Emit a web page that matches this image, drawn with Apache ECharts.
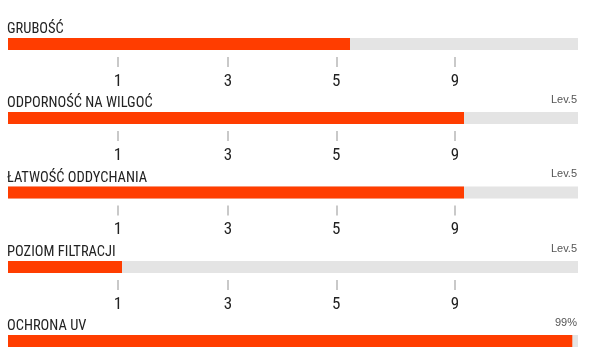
<!DOCTYPE html>
<html>
<head>
<meta charset="utf-8">
<style>
html,body{margin:0;padding:0;background:#fff;}
#chart{width:598px;height:362px;}
</style>
<script src="https://cdn.jsdelivr.net/npm/echarts@6/dist/echarts.min.js"></script>
</head>
<body>
<div id="chart"></div>
<script>
// ---- data ----
const categories = ['GRUBOŚĆ', 'ODPORNOŚĆ NA WILGOĆ', 'ŁATWOŚĆ ODDYCHANIA', 'POZIOM FILTRACJI', 'OCHRONA UV'];
const values = [60, 80, 80, 20, 99];
const valueLabels = ['', 'Lev.5', 'Lev.5', 'Lev.5', '99%'];
const tickPositions = [19.3, 38.6, 57.6, 78.4];
const tickLabels = ['1', '3', '5', '9'];
const showTicks = [true, true, true, true, false];

// ---- layout ----
const barTops = [38, 112, 186.5, 261, 335];
const barH = 12;
const leftPx = 8, rightPx = 20;
const condensed = "'Liberation Sans Narrow', 'Roboto Condensed', 'DejaVu Sans Condensed', sans-serif";
const orange = '#ff3d00';

const chart = echarts.init(document.getElementById('chart'), null, {renderer: 'canvas'});

const grids = [], xAxes = [], yAxes = [], series = [], titles = [];
categories.forEach((cat, i) => {
  grids.push({left: leftPx, right: rightPx, top: barTops[i], height: barH, containLabel: false});
  xAxes.push({
    type: 'value', gridIndex: i, min: 0, max: 100, position: 'bottom', offset: 7,
    axisLine: {show: false}, splitLine: {show: false},
    axisTick: {show: showTicks[i], customValues: tickPositions, length: 10, lineStyle: {color: '#b8b8b8', width: 1.5}},
    axisLabel: {
      show: showTicks[i], customValues: tickPositions, margin: 16,
      fontFamily: condensed, fontSize: 17, color: '#222',
      formatter: v => {
        let best = 0;
        tickPositions.forEach((p, k) => { if (Math.abs(p - v) < Math.abs(tickPositions[best] - v)) best = k; });
        return tickLabels[best];
      }
    }
  });
  yAxes.push({type: 'category', gridIndex: i, data: [cat], show: false});
  series.push({
    type: 'bar', xAxisIndex: i, yAxisIndex: i, data: [values[i]], barWidth: barH,
    itemStyle: {color: orange}, showBackground: true,
    backgroundStyle: {color: '#e4e4e4'}, silent: true, animation: false
  });
  titles.push({
    text: cat, left: leftPx - 1, top: barTops[i] - 16, padding: 0,
    textStyle: {fontFamily: condensed, fontSize: 14.5, fontWeight: 'normal', color: '#222', lineHeight: 15}
  });
  if (valueLabels[i]) {
    titles.push({
      text: valueLabels[i], right: rightPx + 1, top: barTops[i] - 18, padding: 0,
      textStyle: {fontFamily: "'Liberation Sans', Arial, sans-serif", fontSize: 11, fontWeight: 'normal', color: '#555', lineHeight: 11}
    });
  }
});

chart.setOption({
  animation: false,
  backgroundColor: '#fff',
  title: titles,
  grid: grids,
  xAxis: xAxes,
  yAxis: yAxes,
  series: series
});
</script>
</body>
</html>
